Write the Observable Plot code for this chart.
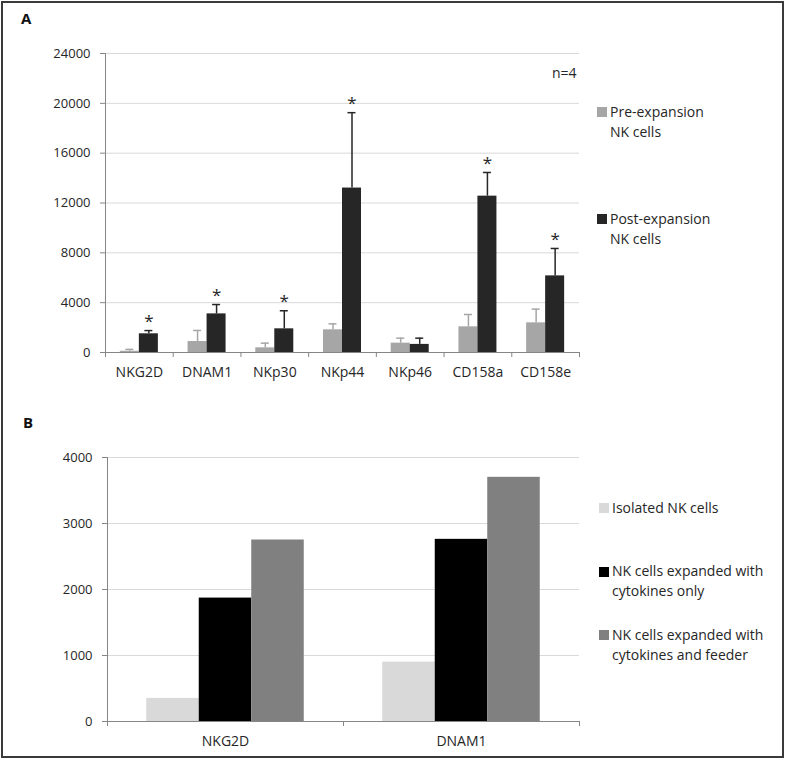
<!DOCTYPE html>
<html><head><meta charset="utf-8">
<script src="https://cdn.jsdelivr.net/npm/d3@7"></script>
<script src="https://cdn.jsdelivr.net/npm/@observablehq/plot@0.6"></script>
<style>
body{margin:0;background:#fff;font-family:"Open Sans",sans-serif;}
#wrap{position:relative;width:787px;height:759px;overflow:hidden;background:#fff;}
#border{position:absolute;left:1px;top:1px;width:783px;height:757px;border:2px solid #3a3a3a;box-sizing:border-box;}
.panel{position:absolute;left:0;}
.lab{position:absolute;font-weight:bold;font-size:15px;line-height:20px;color:#111;}
.leg{position:absolute;font-size:14px;line-height:20px;color:#262626;white-space:nowrap;}
.sw{position:absolute;width:10px;height:10px;}
</style></head>
<body>
<div id="wrap">
  <div id="panelA" class="panel" style="top:0"></div>
  <div id="panelB" class="panel" style="top:390px"></div>
  <div class="lab" style="left:21px;top:8px">A</div>
  <div class="lab" style="left:23px;top:412px">B</div>
  <div id="legA"></div>
  <div id="legB"></div>
  <div id="border"></div>
</div>
<script>
// ---------- Panel A data ----------
const markersA = ["NKG2D", "DNAM1", "NKp30", "NKp44", "NKp46", "CD158a", "CD158e"];
const preMean  = [100, 880, 375, 1820, 750, 2060, 2380];
const preSD    = [150, 890, 375, 480, 400, 990, 1100];
const postMean = [1500, 3100, 1900, 13200, 650, 12550, 6150];
const postSD   = [260, 750, 1450, 6050, 500, 1900, 2200];
const significant = [true, true, true, true, false, true, true];
const yTicksA = [0, 4000, 8000, 12000, 16000, 20000, 24000];
const seriesA = ["Pre-expansion\nNK cells", "Post-expansion\nNK cells"];
const colorsA = ["#a6a6a6", "#262626"];
const noteA = "n=4";

// ---------- Panel B data ----------
const markersB = ["NKG2D", "DNAM1"];
const isolated = [350, 900];
const cytokinesOnly = [1870, 2760];
const cytokinesFeeder = [2750, 3700];
const yTicksB = [0, 1000, 2000, 3000, 4000];
const seriesB = ["Isolated NK cells", "NK cells expanded with\ncytokines only", "NK cells expanded with\ncytokines and feeder"];
const colorsB = ["#d9d9d9", "#000000", "#808080"];

const axisColor = "#868686", gridColor = "#d9d9d9", textColor = "#262626";
const fmt = d3.format("d");

// ---------- Panel A ----------
const rowsA = markersA.map((m, i) => ({
  marker: m, pre: preMean[i], preTop: preMean[i] + preSD[i],
  post: postMean[i], postTop: postMean[i] + postSD[i], sig: significant[i]
}));
const W = 787, HA = 390, mtA = 53, mbA = 38, mlA = 105, mrA = 208;
const bwA = (W - mlA - mrA) / markersA.length;
const barW = 19, capW = 8;

const plotA = Plot.plot({
  width: W, height: HA, marginTop: mtA, marginBottom: mbA, marginLeft: mlA, marginRight: mrA,
  style: {fontFamily: "Open Sans", fontSize: "13px", color: textColor, background: "transparent"},
  x: {domain: markersA, padding: 0, round: false, label: null},
  y: {domain: [0, 24000], label: null},
  marks: [
    Plot.gridY(yTicksA, {stroke: gridColor, strokeOpacity: 1}),
    Plot.axisY(yTicksA, {tickSize: 5, tickPadding: 10, stroke: axisColor, fill: textColor, fontSize: 13, tickFormat: fmt}),
    Plot.axisX({tickSize: 0, tickPadding: 15, fill: textColor, fontSize: 14}),
    Plot.ruleX([markersA[0]], {x: d => d, dx: -bwA / 2, stroke: axisColor, insetBottom: -5}),
    Plot.ruleX(markersA, {x: d => d, dx: bwA / 2, stroke: axisColor, insetTop: HA - mtA - mbA, insetBottom: -5}),
    Plot.ruleY([0], {stroke: axisColor}),
    Plot.barY(rowsA, {x: "marker", y: "pre", fill: colorsA[0], insetLeft: bwA / 2 - barW, insetRight: bwA / 2}),
    Plot.barY(rowsA, {x: "marker", y: "post", fill: colorsA[1], insetLeft: bwA / 2, insetRight: bwA / 2 - barW}),
    Plot.ruleX(rowsA, {x: "marker", y1: "pre", y2: "preTop", dx: -barW / 2, stroke: colorsA[0], strokeWidth: 1.5}),
    Plot.tickY(rowsA, {x: "marker", y: "preTop", stroke: colorsA[0], strokeWidth: 1.5,
      insetLeft: bwA / 2 - barW / 2 - capW / 2, insetRight: bwA / 2 + barW / 2 - capW / 2}),
    Plot.ruleX(rowsA, {x: "marker", y1: "post", y2: "postTop", dx: barW / 2, stroke: colorsA[1], strokeWidth: 1.5}),
    Plot.tickY(rowsA, {x: "marker", y: "postTop", stroke: colorsA[1], strokeWidth: 1.5,
      insetLeft: bwA / 2 + barW / 2 - capW / 2, insetRight: bwA / 2 - barW / 2 - capW / 2}),
    Plot.text(rowsA.filter(d => d.sig), {x: "marker", y: "postTop", text: () => "*", dx: barW / 2, dy: -9,
      fontSize: 17, fill: textColor, lineAnchor: "middle"}),
    Plot.text([noteA], {frameAnchor: "top-right", textAnchor: "end", dx: -3, dy: 15, fontSize: 14, fill: textColor})
  ]
});
document.getElementById("panelA").appendChild(plotA);

// ---------- Panel B ----------
const rowsB = markersB.map((m, i) => ({marker: m, iso: isolated[i], cyt: cytokinesOnly[i], feed: cytokinesFeeder[i]}));
const HB = 369, mtB = 67, mbB = 38, mlB = 107, mrB = 208;
const bwB = (W - mlB - mrB) / markersB.length;
const barWB = 52.5;
const leftB = i => bwB / 2 - 1.5 * barWB + i * barWB;
const plotB = Plot.plot({
  width: W, height: HB, marginTop: mtB, marginBottom: mbB, marginLeft: mlB, marginRight: mrB,
  style: {fontFamily: "Open Sans", fontSize: "13px", color: textColor, background: "transparent"},
  x: {domain: markersB, padding: 0, round: false, label: null},
  y: {domain: [0, 4000], label: null},
  marks: [
    Plot.gridY(yTicksB, {stroke: gridColor, strokeOpacity: 1}),
    Plot.axisY(yTicksB, {tickSize: 5, tickPadding: 10, stroke: axisColor, fill: textColor, fontSize: 13, tickFormat: fmt}),
    Plot.axisX({tickSize: 0, tickPadding: 15, fill: textColor, fontSize: 14}),
    Plot.ruleX([markersB[0]], {x: d => d, dx: -bwB / 2, stroke: axisColor, insetBottom: -5}),
    Plot.ruleX(markersB, {x: d => d, dx: bwB / 2, stroke: axisColor, insetTop: HB - mtB - mbB, insetBottom: -5}),
    Plot.barY(rowsB, {x: "marker", y: "iso", fill: colorsB[0], insetLeft: leftB(0), insetRight: bwB - leftB(0) - barWB}),
    Plot.barY(rowsB, {x: "marker", y: "cyt", fill: colorsB[1], insetLeft: leftB(1), insetRight: bwB - leftB(1) - barWB}),
    Plot.barY(rowsB, {x: "marker", y: "feed", fill: colorsB[2], insetLeft: leftB(2), insetRight: bwB - leftB(2) - barWB}),
    Plot.ruleY([0], {stroke: axisColor})
  ]
});
document.getElementById("panelB").appendChild(plotB);

// ---------- Legends ----------
function legend(containerId, labels, colors, tops, swLeft, textLeft) {
  const c = document.getElementById(containerId);
  labels.forEach((lab, i) => {
    const sw = document.createElement("div");
    sw.className = "sw";
    sw.style.left = swLeft + "px";
    sw.style.top = (tops[i] + 5.5) + "px";
    sw.style.background = colors[i];
    c.appendChild(sw);
    const t = document.createElement("div");
    t.className = "leg";
    t.style.left = textLeft + "px";
    t.style.top = tops[i] + "px";
    t.innerHTML = lab.split("\n").join("<br>");
    c.appendChild(t);
  });
}
legend("legA", seriesA, colorsA, [101.5, 208.5], 597, 610);
legend("legB", seriesB, colorsB, [497.5, 561, 624.5], 599, 612);
</script>
</body></html>
